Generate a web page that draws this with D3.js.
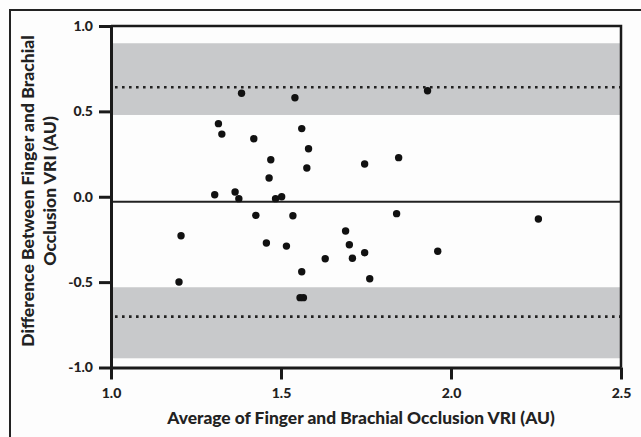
<!DOCTYPE html>
<html>
<head>
<meta charset="utf-8">
<script src="https://cdn.jsdelivr.net/npm/d3@7"></script>
<style>
  body { margin: 0; background: #fdfdfd; }
  text { font-family: Lato, 'Open Sans', sans-serif; font-weight: 900; fill: #222; }
</style>
</head>
<body>
<div id="chart"></div>
<script>
// Bland-Altman data: average (x) vs difference (y)
var avgVRI = [1.384, 1.316, 1.326, 1.420, 1.470, 1.465, 1.305, 1.365, 1.376, 1.484, 1.502, 1.541,
  1.931, 1.561, 1.581, 1.576, 1.746, 1.846, 1.535, 1.840, 1.516, 1.690, 1.701, 1.630,
  1.710, 1.746, 1.961, 1.561, 1.761, 1.556, 1.566, 1.206, 1.200, 1.426, 1.457, 2.257]
var diffVRI = [0.606, 0.428, 0.367, 0.340, 0.217, 0.110, 0.012, 0.028, -0.011, -0.011, 0.000, 0.580,
  0.621, 0.399, 0.281, 0.168, 0.192, 0.229, -0.111, -0.099, -0.289, -0.201, -0.281, -0.363,
  -0.360, -0.328, -0.319, -0.439, -0.480, -0.591, -0.591, -0.228, -0.499, -0.109, -0.271, -0.130]

var meanDiff = -0.029
var limits = [0.641, -0.702]
// shaded confidence bands around each limit [low, high]
var bands = [[0.479, 0.899], [-0.946, -0.530]]

var xTicks = [1.0, 1.5, 2.0, 2.5]
var yTicks = [-1.0, -0.5, 0.0, 0.5, 1.0]

var width = 641
var height = 437
var plot = { left: 111, right: 621, top: 26, bottom: 367.5 }

var svg = d3
  .select('#chart')
  .append('svg')
  .attr('width', width)
  .attr('height', height)

var x = d3.scaleLinear().domain([1, 2.5]).range([plot.left, plot.right])
var y = d3.scaleLinear().domain([-1, 1]).range([plot.bottom, plot.top])

// outer border of figure
svg
  .append('path')
  .attr('d', 'M10,' + height + 'V10H' + width)
  .attr('fill', 'none')
  .attr('stroke', '#222')
  .attr('stroke-width', 2)

// gray bands
svg
  .selectAll('.band')
  .data(bands)
  .enter()
  .append('rect')
  .attr('x', plot.left + 1)
  .attr('width', plot.right - plot.left - 1)
  .attr('y', d => y(d[1]))
  .attr('height', d => y(d[0]) - y(d[1]))
  .attr('fill', '#c8c9cb')

// limits of agreement
svg
  .selectAll('.loa')
  .data(limits)
  .enter()
  .append('line')
  .attr('x1', plot.left + 4)
  .attr('x2', plot.right)
  .attr('y1', d => y(d))
  .attr('y2', d => y(d))
  .attr('stroke', '#222')
  .attr('stroke-width', 2.6)
  .attr('stroke-dasharray', '2.6,4.4')

// mean difference
svg
  .append('line')
  .attr('x1', plot.left)
  .attr('x2', plot.right)
  .attr('y1', y(meanDiff))
  .attr('y2', y(meanDiff))
  .attr('stroke', '#222')
  .attr('stroke-width', 2)

// frame top and right
svg
  .append('path')
  .attr('d', 'M' + plot.left + ',' + plot.top + 'H' + plot.right + 'V' + plot.bottom)
  .attr('fill', 'none')
  .attr('stroke', '#1a1a1a')
  .attr('stroke-width', 2.5)

// axes
svg
  .append('g')
  .attr('transform', 'translate(0,' + plot.bottom + ')')
  .call(
    d3
      .axisBottom(x)
      .tickValues(xTicks)
      .tickSize(12)
      .tickSizeOuter(0)
      .tickPadding(9)
      .tickFormat(d => d.toFixed(1))
  )

svg
  .append('g')
  .attr('transform', 'translate(' + plot.left + ',0)')
  .call(
    d3
      .axisLeft(y)
      .tickValues(yTicks)
      .tickSize(12)
      .tickSizeOuter(0)
      .tickPadding(6)
      .tickFormat(d => d.toFixed(1))
  )

svg.selectAll('.domain').attr('stroke', '#1a1a1a').attr('stroke-width', 3)
svg.selectAll('.tick line').attr('stroke', '#1a1a1a').attr('stroke-width', 3)
svg
  .selectAll('.tick text')
  .attr('font-family', 'Lato, sans-serif')
  .attr('font-weight', 900)
  .attr('font-size', 14)
  .attr('fill', '#222')

// points
svg
  .selectAll('.dot')
  .data(avgVRI)
  .enter()
  .append('circle')
  .attr('cx', d => x(d))
  .attr('cy', (d, i) => y(diffVRI[i]))
  .attr('r', 3.7)
  .attr('fill', '#111')

// scale font so text spans the same length as in the figure
function fitText(sel, target) {
  var fs = 16
  sel.attr('font-size', fs)
  var len = sel.node().getComputedTextLength()
  sel.attr('font-size', (fs * target) / len)
}

// axis titles
var xTitle = svg
  .append('text')
  .attr('x', 361)
  .attr('y', 424)
  .attr('text-anchor', 'middle')
  .text('Average of Finger and Brachial Occlusion VRI (AU)')
fitText(xTitle, 388)

var yTitle1 = svg
  .append('text')
  .attr('transform', 'rotate(-90)')
  .attr('text-anchor', 'middle')
  .attr('x', -191)
  .attr('y', 34)
  .text('Difference Between Finger and Brachial')
fitText(yTitle1, 312)

var yTitle2 = svg
  .append('text')
  .attr('transform', 'rotate(-90)')
  .attr('text-anchor', 'middle')
  .attr('x', -191)
  .attr('y', 56)
  .text('Occlusion VRI (AU)')
yTitle2.attr('font-size', yTitle1.attr('font-size'))
</script>
</body>
</html>
